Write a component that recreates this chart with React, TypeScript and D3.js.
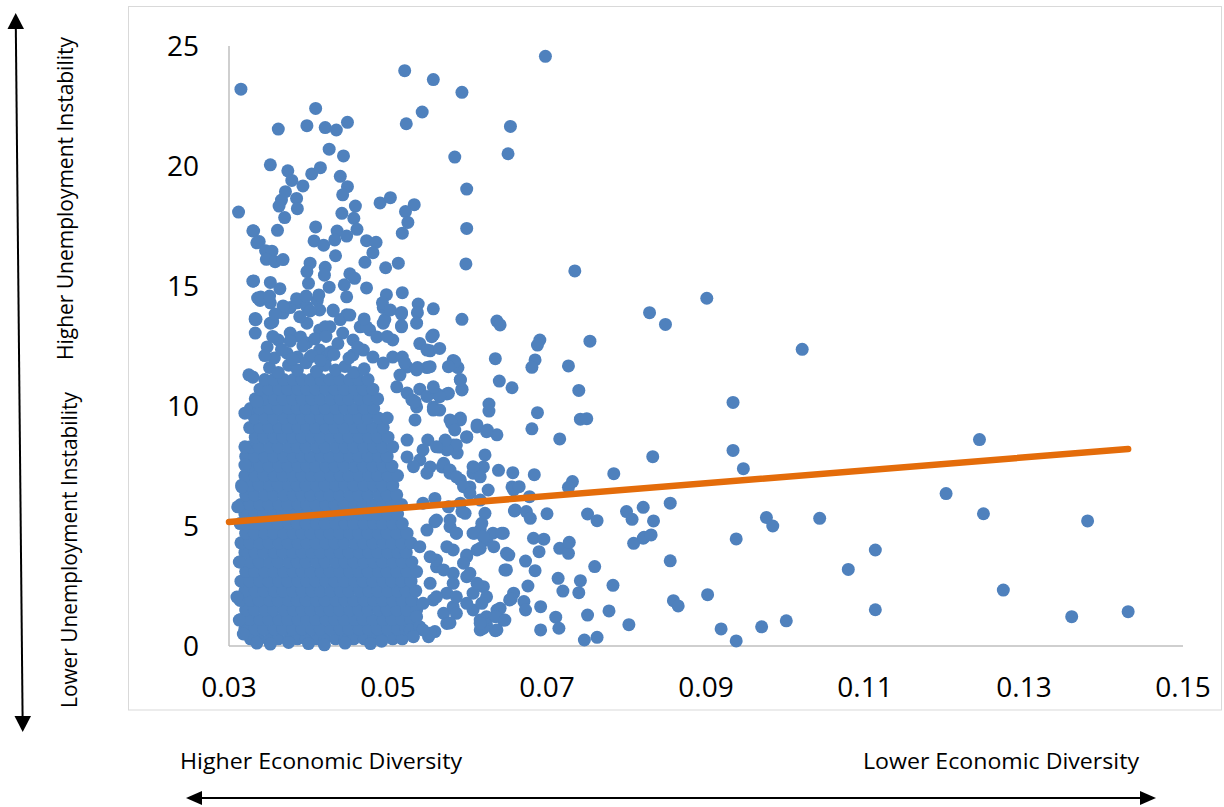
import React from 'react';
import * as d3 from 'd3';

const xTicks = [0.03, 0.05, 0.07, 0.09, 0.11, 0.13, 0.15];
const yTicks = [0, 5, 10, 15, 20, 25];

const trendX = [0.03, 0.1431];
const trendY = [5.17, 8.21];

// isolated points
const outlierPoints: [number, number][] = [
  [0.0315, 23.2], [0.0521, 23.97], [0.0557, 23.6], [0.0593, 23.07], [0.0698, 24.57], [0.0409, 22.4], [0.0543, 22.25],
  [0.0362, 21.54], [0.0398, 21.68], [0.0421, 21.6], [0.0435, 21.5], [0.0449, 21.82], [0.0523, 21.76], [0.0654, 21.65],
  [0.0426, 20.7], [0.0444, 20.42], [0.0584, 20.37], [0.0651, 20.51], [0.0352, 20.05], [0.0374, 19.8], [0.0404, 19.67],
  [0.0415, 19.93], [0.0379, 19.4], [0.0393, 19.17], [0.044, 19.57], [0.0449, 19.14], [0.0443, 18.8], [0.0599, 19.04],
  [0.0371, 18.93], [0.0366, 18.58], [0.0385, 18.65], [0.0363, 18.33], [0.0386, 18.22], [0.0312, 18.08], [0.049, 18.46],
  [0.0503, 18.68], [0.0533, 18.39], [0.0459, 18.33], [0.0442, 18.03], [0.0522, 18.1], [0.0525, 17.65], [0.0518, 17.2],
  [0.0457, 17.82], [0.037, 17.85], [0.0599, 17.4], [0.0331, 17.29], [0.0361, 17.32], [0.0409, 17.46], [0.0436, 17.29],
  [0.0461, 17.36], [0.0448, 17.08], [0.0433, 16.92], [0.0338, 16.85], [0.0407, 16.88], [0.0419, 16.7], [0.0473, 16.89],
  [0.0485, 16.82], [0.0481, 16.39], [0.0346, 16.47], [0.0354, 16.45], [0.0347, 16.11], [0.0358, 16.01], [0.0368, 16.1],
  [0.0434, 16.26], [0.0471, 15.99], [0.0598, 15.92], [0.0402, 15.95], [0.0421, 15.78], [0.0513, 15.95], [0.0497, 15.76],
  [0.0398, 15.6], [0.042, 15.45], [0.0452, 15.51], [0.0458, 15.32], [0.0331, 15.21], [0.0352, 15.15], [0.0364, 14.89],
  [0.04, 15.11], [0.0426, 14.95], [0.0445, 15.05], [0.0473, 14.92], [0.0518, 14.72], [0.0498, 14.64], [0.034, 14.54],
  [0.0351, 14.58], [0.0385, 14.47], [0.0397, 14.58], [0.0413, 14.63], [0.0448, 14.55], [0.0538, 14.25], [0.0557, 14.05],
  [0.0493, 14.3], [0.0368, 14.17], [0.0358, 13.83], [0.0334, 13.61], [0.0389, 13.72], [0.0402, 13.96], [0.0431, 13.96],
  [0.0452, 13.79], [0.047, 13.63], [0.0503, 14.0], [0.0517, 13.83], [0.0537, 13.89], [0.0593, 13.61], [0.0637, 13.54],
  [0.0641, 13.38], [0.0536, 13.45], [0.0517, 13.35],
  [0.0735, 15.63], [0.0829, 13.89], [0.0849, 13.4], [0.0754, 12.7], [0.0691, 12.75], [0.0688, 12.54],
  [0.0901, 14.49], [0.1021, 12.36], [0.0934, 10.15], [0.0833, 7.89], [0.0934, 8.15], [0.0947, 7.39], [0.0821, 5.78],
  [0.0855, 5.95], [0.0834, 5.21], [0.0822, 4.53], [0.0831, 4.63], [0.0976, 5.35], [0.0984, 5.0], [0.1043, 5.32],
  [0.0938, 4.46], [0.1113, 4.0], [0.1079, 3.19], [0.0855, 3.55], [0.0859, 1.89], [0.0865, 1.67], [0.0902, 2.14],
  [0.1113, 1.51], [0.0919, 0.71], [0.0938, 0.21], [0.097, 0.8], [0.1001, 1.05],
  [0.1244, 8.6], [0.1202, 6.35], [0.1249, 5.51], [0.138, 5.21], [0.1274, 2.33], [0.136, 1.22], [0.1431, 1.43],
];

// semi-dense points around the core
const fringePoints: [number, number][] = [
  [0.0339, 14.4], [0.0352, 14.3], [0.0355, 13.5], [0.0368, 13.87], [0.0377, 14.1], [0.0348, 12.46], [0.0362, 12.75],
  [0.0377, 13.04], [0.039, 12.88], [0.0398, 12.63], [0.0386, 14.3], [0.0398, 14.13], [0.0411, 14.4], [0.0414, 14.0],
  [0.0431, 14.0], [0.0448, 13.8], [0.044, 13.6], [0.0427, 13.3], [0.0414, 13.17], [0.0443, 13.04], [0.0456, 12.75],
  [0.0465, 13.3], [0.0477, 13.17], [0.0486, 12.88], [0.0469, 12.33], [0.0456, 12.13], [0.0481, 12.04], [0.0494, 11.79],
  [0.0402, 12.04], [0.0414, 12.33], [0.0423, 12.04], [0.0386, 12.04], [0.0373, 12.2], [0.0506, 12.04], [0.0518, 12.04],
  [0.0524, 11.63], [0.0515, 11.29], [0.0511, 10.8], [0.0524, 10.54], [0.053, 10.25], [0.0536, 9.96],
  [0.0333, 13.04], [0.0333, 13.65], [0.0352, 13.45], [0.0398, 13.45], [0.0421, 13.3], [0.0473, 13.3], [0.0494, 13.45],
  [0.0517, 13.9], [0.0517, 13.3], [0.0506, 12.75], [0.0494, 14.1], [0.0496, 13.6], [0.0499, 12.9], [0.0557, 12.96],
  [0.054, 12.6], [0.0553, 12.3], [0.0565, 12.4], [0.0582, 11.9], [0.0588, 11.6], [0.0537, 11.6], [0.0549, 11.6],
  [0.0521, 11.8], [0.0591, 11.1], [0.0593, 10.7], [0.054, 10.7], [0.0531, 10.25], [0.0549, 10.4], [0.0562, 10.5],
  [0.0574, 10.5], [0.0557, 9.96], [0.0565, 9.83], [0.0534, 9.42], [0.0578, 9.42], [0.0591, 9.5], [0.0612, 9.13],
  [0.0625, 9.0], [0.0637, 8.8], [0.0599, 8.7], [0.055, 8.58], [0.0565, 8.29], [0.0582, 8.38], [0.0587, 8.04],
  [0.0524, 7.88], [0.054, 7.75], [0.0553, 7.46], [0.0568, 7.46], [0.0578, 7.2], [0.0591, 6.92], [0.0603, 6.63],
  [0.0607, 7.2], [0.062, 7.46], [0.0656, 6.63], [0.066, 5.67], [0.0591, 5.95], [0.0597, 5.53],
  [0.0561, 5.25], [0.0578, 4.97], [0.0586, 4.7], [0.0607, 4.7], [0.0616, 4.83], [0.0624, 4.42], [0.0632, 4.7],
  [0.0645, 4.7], [0.0582, 4.0], [0.0599, 3.72], [0.0612, 4.0], [0.0649, 3.86], [0.0647, 3.17], [0.0561, 3.3],
  [0.0582, 3.03], [0.0599, 2.89], [0.062, 2.47], [0.0607, 2.2], [0.0557, 1.92], [0.057, 1.36], [0.0582, 1.64],
  [0.0607, 1.5], [0.0624, 1.22], [0.0637, 1.5], [0.0645, 1.08], [0.0637, 0.67], [0.0616, 0.67], [0.0653, 1.92],
  [0.0635, 11.97], [0.0685, 11.92], [0.0681, 11.61], [0.0727, 11.67], [0.064, 11.04], [0.0656, 10.76], [0.074, 10.65],
  [0.0627, 10.08], [0.0627, 9.79], [0.0688, 9.72], [0.0742, 9.45], [0.075, 9.47], [0.0681, 9.05], [0.0716, 8.63],
  [0.0784, 7.18], [0.0684, 7.14], [0.0639, 7.32], [0.0657, 7.22], [0.0732, 6.85], [0.0727, 6.61], [0.0658, 6.5],
  [0.0665, 6.64], [0.0678, 6.22], [0.08, 5.6], [0.0807, 5.28], [0.0751, 5.5], [0.0763, 5.22], [0.07, 5.51],
  [0.0659, 5.63], [0.0674, 5.6], [0.0679, 5.32], [0.0809, 4.28], [0.0821, 4.49], [0.0716, 4.07], [0.0727, 3.86],
  [0.0728, 4.32], [0.0683, 4.49], [0.0696, 4.45], [0.069, 3.93], [0.076, 3.31], [0.0673, 3.54], [0.0685, 3.14],
  [0.0649, 3.17], [0.0652, 3.79], [0.0714, 2.82], [0.072, 2.29], [0.0742, 2.72], [0.074, 2.22], [0.0783, 2.53],
  [0.0676, 2.5], [0.0658, 2.2], [0.0655, 1.96], [0.0671, 1.85], [0.0673, 1.5], [0.0692, 1.64], [0.0778, 1.46],
  [0.0751, 1.29], [0.0803, 0.89], [0.0711, 1.2], [0.0715, 0.74], [0.0692, 0.67], [0.0747, 0.25], [0.0763, 0.36],
  [0.0635, 0.64], [0.0641, 1.57], [0.0635, 1.22], [0.0647, 1.08], [0.0624, 2.05], [0.0618, 1.78], [0.0616, 1.08],
  [0.0624, 0.88], [0.0586, 4.7], [0.0599, 3.79], [0.0609, 4.7], [0.062, 4.55], [0.0633, 4.14], [0.0643, 4.7],
  [0.0616, 4.07], [0.0622, 5.53], [0.0618, 5.11], [0.0578, 5.25], [0.0593, 5.6], [0.0559, 5.18], [0.0599, 8.72],
  [0.0612, 9.21], [0.0624, 8.93], [0.0622, 7.96], [0.0607, 7.47], [0.0616, 7.05], [0.0593, 10.67],
  [0.0591, 11.08], [0.0584, 11.85], [0.0576, 11.64], [0.0555, 12.89], [0.0549, 12.33], [0.0576, 10.53],
  [0.0565, 10.39], [0.0557, 9.83], [0.0591, 9.42], [0.058, 9.28], [0.0586, 8.38], [0.0574, 8.17], [0.057, 7.61],
  [0.0578, 7.33], [0.0586, 7.05], [0.0595, 6.64], [0.0603, 6.36], [0.0559, 6.15], [0.0576, 5.8], [0.0574, 4.14],
  [0.0561, 3.58], [0.057, 3.17], [0.0595, 3.45], [0.0603, 3.03], [0.0612, 2.61], [0.0599, 1.78], [0.0586, 1.36],
  [0.0574, 0.94], [0.0559, 0.6], [0.0551, 0.39],
  [0.0536, 11.5], [0.0553, 11.64], [0.0557, 10.8], [0.0534, 10.18], [0.0584, 9.0], [0.0572, 8.58], [0.0561, 8.3],
  [0.0524, 8.58], [0.0544, 8.17], [0.0549, 7.2], [0.0532, 7.47], [0.0544, 5.95], [0.0549, 4.83], [0.054, 4.14],
  [0.0553, 3.72], [0.0582, 2.61], [0.0574, 2.2], [0.0586, 2.05], [0.0553, 2.61], [0.0561, 2.05], [0.0544, 1.78],
  [0.0536, 1.22], [0.0528, 0.67], [0.054, 0.8], [0.0626, 6.5], [0.0616, 6.08],
  [0.062, 0.74], [0.0616, 0.95], [0.0578, 0.96], [0.0553, 0.53], [0.0544, 0.67], [0.0532, 0.39],
  [0.033, 11.2], [0.0325, 11.3], [0.0335, 10.18], [0.032, 9.7], [0.032, 8.3], [0.0316, 6.63], [0.0311, 5.8],
  [0.0313, 3.5], [0.031, 2.04], [0.0313, 1.08], [0.032, 7.54], [0.033, 17.3], [0.0335, 16.8], [0.033, 15.2],
  [0.0336, 14.5], [0.0333, 13.6],
  [0.0335, 0.12], [0.0352, 0.08], [0.0375, 0.15], [0.04, 0.1], [0.042, 0.05], [0.0446, 0.12], [0.0478, 0.1],
  [0.0492, 0.2], [0.0318, 0.5],
  // ragged top of the core
  [0.0351, 11.6], [0.0362, 11.4], [0.0375, 11.7], [0.0386, 11.5], [0.0397, 11.8], [0.041, 11.45], [0.0421, 11.7],
  [0.0434, 11.5], [0.0446, 11.65], [0.0457, 11.4], [0.047, 11.55], [0.0357, 12.0], [0.0366, 12.35], [0.038, 11.95],
  [0.0393, 12.5], [0.0404, 12.1], [0.0415, 11.9], [0.0428, 12.25], [0.0437, 12.6], [0.0451, 12.0], [0.0462, 12.45],
  [0.0345, 12.1], [0.0377, 12.7], [0.0408, 12.8], [0.0422, 12.9], [0.0432, 12.15], [0.0355, 12.9],
];

// dense core, row by row: [y, x values]
const coreRows: [number, number[]][] = [
  [0.3, [0.0327, 0.0338, 0.0351, 0.0362, 0.0375, 0.0386, 0.0397, 0.041, 0.0421, 0.0434, 0.0446, 0.0457, 0.047, 0.0482, 0.0493, 0.0506, 0.0518]],
  [0.7, [0.032, 0.0333, 0.0344, 0.0357, 0.0368, 0.038, 0.0392, 0.0404, 0.0415, 0.0428, 0.044, 0.0451, 0.0464, 0.0476, 0.0487, 0.05, 0.0512, 0.0523, 0.0535]],
  [1.1, [0.0315, 0.0326, 0.0339, 0.035, 0.0363, 0.0374, 0.0387, 0.0398, 0.0409, 0.0422, 0.0433, 0.0445, 0.0458, 0.0469, 0.0481, 0.0494, 0.0505, 0.0517, 0.0529]],
  [1.5, [0.0321, 0.0332, 0.0345, 0.0356, 0.0369, 0.0381, 0.0392, 0.0403, 0.0416, 0.0427, 0.0439, 0.0452, 0.0463, 0.0475, 0.0488, 0.0499, 0.0511, 0.0524, 0.0536]],
  [1.9, [0.0314, 0.0327, 0.0338, 0.0351, 0.0362, 0.0375, 0.0386, 0.0397, 0.041, 0.0421, 0.0434, 0.0446, 0.0457, 0.047, 0.0482, 0.0493, 0.0506, 0.0518, 0.053]],
  [2.3, [0.032, 0.0333, 0.0344, 0.0357, 0.0368, 0.038, 0.0392, 0.0404, 0.0415, 0.0428, 0.044, 0.0451, 0.0464, 0.0476, 0.0487, 0.05, 0.0512, 0.0523, 0.0535]],
  [2.7, [0.0315, 0.0326, 0.0339, 0.035, 0.0363, 0.0374, 0.0387, 0.0398, 0.0409, 0.0422, 0.0433, 0.0445, 0.0458, 0.0469, 0.0481, 0.0494, 0.0505, 0.0517, 0.0529]],
  [3.1, [0.0321, 0.0332, 0.0345, 0.0356, 0.0369, 0.0381, 0.0392, 0.0403, 0.0416, 0.0427, 0.0439, 0.0452, 0.0463, 0.0475, 0.0488, 0.0499, 0.0511, 0.0524, 0.0536]],
  [3.5, [0.0314, 0.0327, 0.0338, 0.0351, 0.0362, 0.0375, 0.0386, 0.0397, 0.041, 0.0421, 0.0434, 0.0446, 0.0457, 0.047, 0.0482, 0.0493, 0.0506, 0.0518, 0.053]],
  [3.9, [0.032, 0.0333, 0.0344, 0.0357, 0.0368, 0.038, 0.0392, 0.0404, 0.0415, 0.0428, 0.044, 0.0451, 0.0464, 0.0476, 0.0487, 0.05, 0.0512, 0.0523]],
  [4.3, [0.0315, 0.0326, 0.0339, 0.035, 0.0363, 0.0374, 0.0387, 0.0398, 0.0409, 0.0422, 0.0433, 0.0445, 0.0458, 0.0469, 0.0481, 0.0494, 0.0505, 0.0517, 0.0529]],
  [4.7, [0.0321, 0.0332, 0.0345, 0.0356, 0.0369, 0.0381, 0.0392, 0.0403, 0.0416, 0.0427, 0.0439, 0.0452, 0.0463, 0.0475, 0.0488, 0.0499, 0.0511, 0.0524]],
  [5.1, [0.0314, 0.0327, 0.0338, 0.0351, 0.0362, 0.0375, 0.0386, 0.0397, 0.041, 0.0421, 0.0434, 0.0446, 0.0457, 0.047, 0.0482, 0.0493, 0.0506, 0.0518]],
  [5.5, [0.032, 0.0333, 0.0344, 0.0357, 0.0368, 0.038, 0.0392, 0.0404, 0.0415, 0.0428, 0.044, 0.0451, 0.0464, 0.0476, 0.0487, 0.05, 0.0512]],
  [5.9, [0.0315, 0.0326, 0.0339, 0.035, 0.0363, 0.0374, 0.0387, 0.0398, 0.0409, 0.0422, 0.0433, 0.0445, 0.0458, 0.0469, 0.0481, 0.0494, 0.0505, 0.0517]],
  [6.3, [0.0321, 0.0332, 0.0345, 0.0356, 0.0369, 0.0381, 0.0392, 0.0403, 0.0416, 0.0427, 0.0439, 0.0452, 0.0463, 0.0475, 0.0488, 0.0499, 0.0511]],
  [6.7, [0.0316, 0.0327, 0.0338, 0.0351, 0.0362, 0.0375, 0.0386, 0.0397, 0.041, 0.0421, 0.0434, 0.0446, 0.0457, 0.047, 0.0482, 0.0493, 0.0506]],
  [7.1, [0.032, 0.0333, 0.0344, 0.0357, 0.0368, 0.038, 0.0392, 0.0404, 0.0415, 0.0428, 0.044, 0.0451, 0.0464, 0.0476, 0.0487, 0.05, 0.0512]],
  [7.5, [0.0326, 0.0339, 0.035, 0.0363, 0.0374, 0.0387, 0.0398, 0.0409, 0.0422, 0.0433, 0.0445, 0.0458, 0.0469, 0.0481, 0.0494, 0.0505]],
  [7.9, [0.0321, 0.0332, 0.0345, 0.0356, 0.0369, 0.0381, 0.0392, 0.0403, 0.0416, 0.0427, 0.0439, 0.0452, 0.0463, 0.0475, 0.0488, 0.0499]],
  [8.3, [0.0327, 0.0338, 0.0351, 0.0362, 0.0375, 0.0386, 0.0397, 0.041, 0.0421, 0.0434, 0.0446, 0.0457, 0.047, 0.0482, 0.0493, 0.0506]],
  [8.7, [0.0333, 0.0344, 0.0357, 0.0368, 0.038, 0.0392, 0.0404, 0.0415, 0.0428, 0.044, 0.0451, 0.0464, 0.0476, 0.0487, 0.05]],
  [9.1, [0.0326, 0.0339, 0.035, 0.0363, 0.0374, 0.0387, 0.0398, 0.0409, 0.0422, 0.0433, 0.0445, 0.0458, 0.0469, 0.0481, 0.0494]],
  [9.5, [0.0332, 0.0345, 0.0356, 0.0369, 0.0381, 0.0392, 0.0403, 0.0416, 0.0427, 0.0439, 0.0452, 0.0463, 0.0475, 0.0488, 0.0499]],
  [9.9, [0.0327, 0.0338, 0.0351, 0.0362, 0.0375, 0.0386, 0.0397, 0.041, 0.0421, 0.0434, 0.0446, 0.0457, 0.047, 0.0482]],
  [10.3, [0.0333, 0.0344, 0.0357, 0.0368, 0.038, 0.0392, 0.0404, 0.0415, 0.0428, 0.044, 0.0451, 0.0464, 0.0476, 0.0487]],
  [10.7, [0.0339, 0.035, 0.0363, 0.0374, 0.0387, 0.0398, 0.0409, 0.0422, 0.0433, 0.0445, 0.0458, 0.0469, 0.0481]],
  [11.1, [0.0345, 0.0356, 0.0369, 0.0381, 0.0392, 0.0403, 0.0416, 0.0427, 0.0439, 0.0452, 0.0463, 0.0475]],
];

const W = 1224;
const H = 807;
const FONT = "'Open Sans', 'Liberation Sans', sans-serif";

export default function App() {
  const x = d3.scaleLinear().domain([0.03, 0.15]).range([229, 1183]);
  const y = d3.scaleLinear().domain([0, 25]).range([646, 46]);

  const corePoints: [number, number][] = coreRows.flatMap(([yv, xs]) => xs.map((xv) => [xv, yv] as [number, number]));
  const points = [...corePoints, ...fringePoints, ...outlierPoints];

  const trendPath = d3
    .line<number>()
    .x((d) => x(d))
    .y((_, i) => y(trendY[i]))(trendX) as string;

  return (
    <svg width={W} height={H} style={{ position: 'absolute', left: 0, top: 0, background: '#fff' }} fontFamily={FONT}>
      <rect x={0} y={0} width={W} height={H} fill="#fff" />
      {/* chart frame */}
      <rect x={128.5} y={6.5} width={1093} height={703.5} fill="#fff" stroke="#d9d9d9" strokeWidth={1} />

      {/* axes */}
      <line x1={x(0.03)} x2={x(0.15)} y1={y(0)} y2={y(0)} stroke="#bfbfbf" strokeWidth={1.5} />
      <line x1={x(0.03)} x2={x(0.03)} y1={y(0)} y2={y(25)} stroke="#bfbfbf" strokeWidth={1.5} />

      {yTicks.map((t) => (
        <text key={'y' + t} x={199} y={y(t) + 10} textAnchor="end" fontSize={28} fill="#000">
          {t}
        </text>
      ))}
      {xTicks.map((t) => (
        <text key={'x' + t} x={x(t)} y={697} textAnchor="middle" fontSize={28} fill="#000">
          {d3.format('.2f')(t)}
        </text>
      ))}

      {/* points */}
      <g fill="#4F81BD">
        {points.map((p, i) => (
          <circle key={i} cx={x(p[0])} cy={y(p[1])} r={6.5} />
        ))}
      </g>

      {/* trendline */}
      <path d={trendPath} stroke="#E46C0A" strokeWidth={6.5} strokeLinecap="round" fill="none" />

      {/* vertical annotation arrow */}
      <line x1={15.8} y1={26} x2={22.6} y2={718} stroke="#000" strokeWidth={2} />
      <polygon points="15.7,13 7.5,29 24,29" fill="#000" />
      <polygon points="22.7,732 14.5,716 31,716" fill="#000" />
      <text transform="translate(73,198.5) rotate(-90)" textAnchor="middle" fontSize={21} textLength={323} lengthAdjust="spacingAndGlyphs" fill="#000">
        Higher Unemployment Instability
      </text>
      <text transform="translate(77,550) rotate(-90)" textAnchor="middle" fontSize={21} textLength={316} lengthAdjust="spacingAndGlyphs" fill="#000">
        Lower Unemployment Instability
      </text>

      {/* horizontal annotation arrow */}
      <text x={180} y={769} fontSize={21} textLength={282} lengthAdjust="spacingAndGlyphs" fill="#000">
        Higher Economic Diversity
      </text>
      <text x={863} y={769} fontSize={21} textLength={276} lengthAdjust="spacingAndGlyphs" fill="#000">
        Lower Economic Diversity
      </text>
      <line x1={200} y1={798} x2={1142} y2={798} stroke="#000" strokeWidth={2} />
      <polygon points="186,798 202,791 202,805" fill="#000" />
      <polygon points="1156,798 1140,791 1140,805" fill="#000" />
    </svg>
  );
}
